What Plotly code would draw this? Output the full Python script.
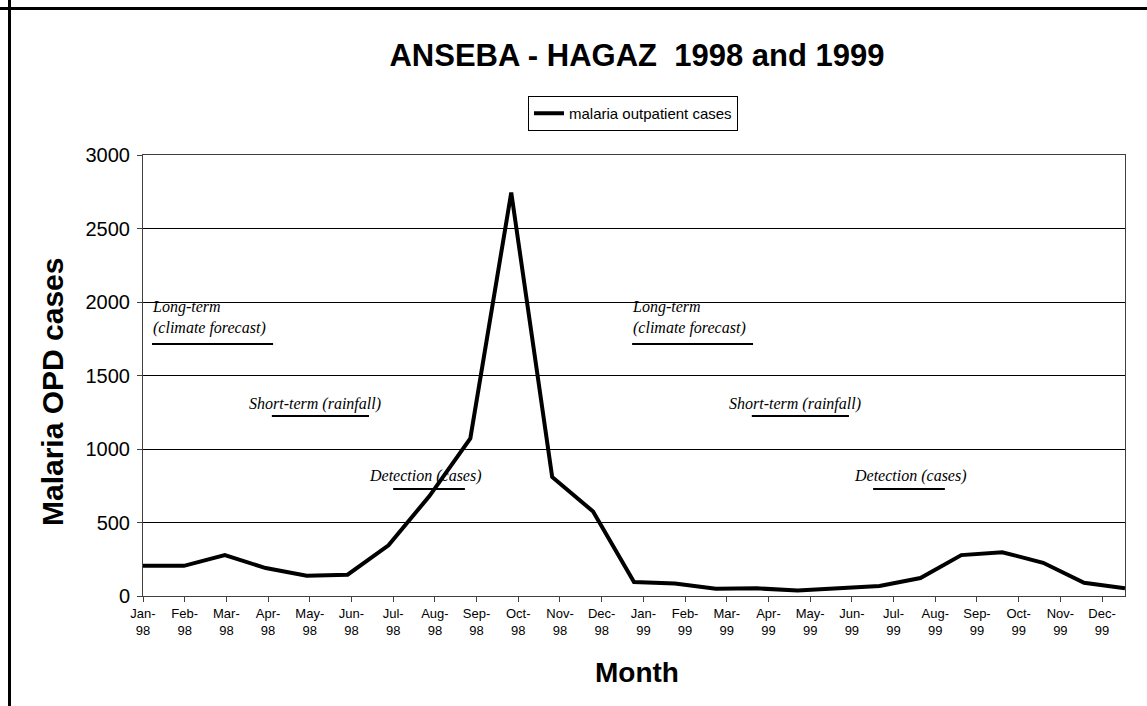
import numpy as np
import plotly.graph_objects as go

# Monthly malaria outpatient (OPD) cases, Anseba - Hagaz
month_labels = ["Jan-98", "Feb-98", "Mar-98", "Apr-98", "May-98", "Jun-98",
                "Jul-98", "Aug-98", "Sep-98", "Oct-98", "Nov-98", "Dec-98",
                "Jan-99", "Feb-99", "Mar-99", "Apr-99", "May-99", "Jun-99",
                "Jul-99", "Aug-99", "Sep-99", "Oct-99", "Nov-99", "Dec-99"]
opd_cases = [206, 205, 278, 190, 138, 145, 345, 680, 1072, 2745, 810, 575,
             95, 85, 50, 52, 38, 50, 68, 122, 278, 298, 226, 90, 52]
y_ticks = [0, 500, 1000, 1500, 2000, 2500, 3000]

# Early-warning horizons written on the chart
horizon_labels = ["Long-term<br>(climate forecast)", "Short-term (rainfall)",
                  "Detection (cases)"]

W, H = 1147, 706
ML, MR, MT, MB = 143, 22, 155, 110
X_END = 23.55          # axis end in month-tick units

# the series is spread evenly over the full width of the plot area
x_pos = np.linspace(0, X_END, len(opd_cases))

fig = go.Figure()
fig.add_trace(go.Scatter(
    x=x_pos, y=opd_cases, mode="lines",
    name="malaria outpatient cases",
    line=dict(color="black", width=4),
))

SERIF = "Liberation Serif, Times New Roman, serif"
SANS = "Liberation Sans, Arial, sans-serif"

# text anchor (left x, centre y) and underline (x0, x1, y) per horizon, two years
layout_spec = [
    # label index, text x, text y, line x0, line x1, line y
    (0, 0.20, 1895, 0.216, 3.12, 1714),
    (1, 2.52, 1306, 3.09, 5.42, 1224),
    (2, 5.40, 816, 6.00, 7.72, 728),
    (0, 11.71, 1895, 11.73, 14.63, 1714),
    (1, 14.03, 1306, 14.60, 16.93, 1224),
    (2, 17.03, 816, 17.51, 19.23, 728),
]

annotations = []
shapes = []
for idx, tx, ty, lx0, lx1, ly in layout_spec:
    annotations.append(dict(
        x=tx, y=ty, xref="x", yref="y", text=horizon_labels[idx],
        showarrow=False, xanchor="left", yanchor="middle", align="left",
        borderpad=0,
        font=dict(family=SERIF, size=16, color="black", style="italic"),
    ))
    shapes.append(dict(type="line", xref="x", yref="y",
                       x0=lx0, x1=lx1, y0=ly, y1=ly,
                       line=dict(color="black", width=2)))

pw, ph = W - ML - MR, H - MT - MB


def px_to_paper(px, py):
    return (px - ML) / pw, (H - MB - py) / ph


# axis titles
yx, yy = px_to_paper(52, 392)
annotations.append(dict(
    x=yx, y=yy, xref="paper", yref="paper", text="Malaria OPD cases",
    showarrow=False, textangle=-90, xanchor="center", yanchor="middle",
    font=dict(family=SANS, size=30, color="black", weight="bold"),
))
mx, my = px_to_paper(637, 672)
annotations.append(dict(
    x=mx, y=my, xref="paper", yref="paper", text="Month",
    showarrow=False, xanchor="center", yanchor="middle",
    font=dict(family=SANS, size=28, color="black", weight="bold"),
))

# outer chart frame (top and left edges)
fx, fy = px_to_paper(9.5, 8.5)
shapes.append(dict(type="line", xref="paper", yref="paper",
                   x0=fx, x1=fx, y0=-1, y1=2,
                   line=dict(color="black", width=3)))
shapes.append(dict(type="line", xref="paper", yref="paper",
                   x0=-1, x1=2, y0=fy, y1=fy,
                   line=dict(color="black", width=3)))

lx, ly = px_to_paper(528, 96)

fig.update_layout(
    width=W, height=H,
    margin=dict(l=ML, r=MR, t=MT, b=MB, autoexpand=False),
    paper_bgcolor="white", plot_bgcolor="white",
    font=dict(family=SANS, color="black"),
    title=dict(
        text="ANSEBA - HAGAZ\u00a0 1998 and 1999",
        x=637 / W, xref="container", xanchor="center",
        y=1 - 55 / H, yref="container", yanchor="middle",
        font=dict(family=SANS, size=31, color="black", weight="bold"),
    ),
    showlegend=True,
    legend=dict(
        x=lx, y=ly, xanchor="left", yanchor="top",
        bgcolor="white", bordercolor="black", borderwidth=1,
        font=dict(family=SANS, size=15, color="black"),
        itemwidth=30,
    ),
    xaxis=dict(
        range=[0, X_END],
        tickmode="array",
        tickvals=list(range(len(month_labels))),
        ticktext=[m.replace("-", "-<br>") for m in month_labels],
        tickfont=dict(family=SANS, size=13, color="black"),
        ticks="outside", ticklen=5, tickcolor="#404040",
        showline=True, linecolor="#404040", linewidth=1, mirror=True,
        showgrid=False, zeroline=False,
    ),
    yaxis=dict(
        range=[0, 3000],
        tickmode="array", tickvals=y_ticks,
        tickfont=dict(family=SANS, size=20, color="black"),
        ticks="outside", ticklen=5, tickcolor="#404040",
        ticklabelstandoff=3,
        showline=True, linecolor="#404040", linewidth=1, mirror=True,
        showgrid=True, gridcolor="black", gridwidth=1,
        zeroline=False,
    ),
    annotations=annotations,
    shapes=shapes,
)

fig.write_html("out.html")
